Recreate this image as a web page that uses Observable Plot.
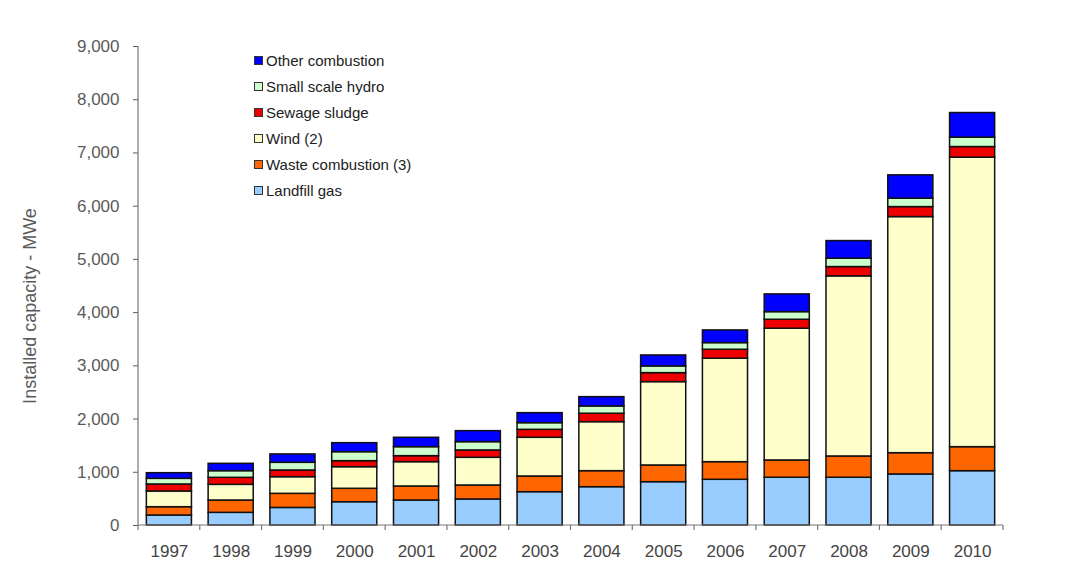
<!DOCTYPE html>
<html>
<head>
<meta charset="utf-8">
<script src="https://cdn.jsdelivr.net/npm/d3@7"></script>
<script src="https://cdn.jsdelivr.net/npm/@observablehq/plot@0.6"></script>
<style>
  body { margin: 0; background: #fff; font-family: "Liberation Sans", Arial, sans-serif; }
  #wrap { position: relative; width: 1077px; height: 572px; }
  #legend { position: absolute; left: 254px; top: 47px; font-size: 15px; color: #222; }
  #legend .row { display: flex; align-items: center; height: 26px; white-space: nowrap; }
  #legend .sw { width: 7px; height: 7px; border: 1px solid #333; margin-right: 3px; }
</style>
</head>
<body>
<div id="wrap"><div id="legend"></div></div>
<script>
// Installed renewable generating capacity (MWe), by source and year
const years = ["1997","1998","1999","2000","2001","2002","2003","2004","2005","2006","2007","2008","2009","2010"];
const landfillGas     = [188, 238, 330, 438, 470, 489, 626, 720, 814, 859, 897, 897, 959, 1021];
const wasteCombustion = [156, 232, 265, 252, 263, 263, 295, 301, 314, 331, 325, 400, 400, 451];
const wind            = [295, 294, 313, 406, 457, 520, 727, 921, 1566, 1943, 2475, 3384, 4436, 5440];
const sewageSludge    = [132, 132, 126, 113, 113, 138, 150, 158, 169, 169, 169, 175, 188, 199];
const smallHydro      = [106, 125, 144, 169, 169, 156, 125, 137, 126, 125, 143, 157, 158, 177];
const otherCombustion = [106, 138, 157, 169, 176, 207, 188, 175, 206, 238, 333, 331, 438, 462];

// Series from the bottom of each stack upwards
const seriesNames  = ["Landfill gas", "Waste combustion (3)", "Wind (2)", "Sewage sludge", "Small scale hydro", "Other combustion"];
const seriesValues = [landfillGas, wasteCombustion, wind, sewageSludge, smallHydro, otherCombustion];
const seriesColors = ["#99ccff", "#ff6600", "#ffffcc", "#ee0000", "#ccffcc", "#0000ff"];

const yTicks = [0, 1000, 2000, 3000, 4000, 5000, 6000, 7000, 8000, 9000];
const yLabel = "Installed capacity - MWe";

const rows = [];
seriesNames.forEach((name, s) => {
  years.forEach((year, i) => rows.push({year, series: name, value: seriesValues[s][i]}));
});

const chart = Plot.plot({
  width: 1077,
  height: 572,
  marginLeft: 138,
  marginRight: 74,
  marginTop: 46,
  marginBottom: 47,
  style: { fontFamily: "'Liberation Sans', Arial, sans-serif", background: "#fff", overflow: "visible" },
  x: { domain: years, paddingInner: 0.27, paddingOuter: 0.135, round: false },
  y: { domain: [0, 9000] },
  color: { domain: seriesNames, range: seriesColors },
  marks: [
    Plot.barY(rows, Plot.stackY({
      x: "year", y: "value", fill: "series", order: seriesNames,
      stroke: "#111", strokeWidth: 1.5
    })),
    Plot.axisY({ticks: yTicks, tickFormat: d3.format(","), tickSize: 5, tickPadding: 14,
                fontSize: 17, color: "#5a5a5a", label: null}),
    Plot.axisX({tickSize: 0, tickPadding: 19, fontSize: 17, color: "#444", label: null}),
    Plot.text([yLabel], {frameAnchor: "left", textAnchor: "middle", rotate: -90, dx: -108, dy: 20,
                         fontSize: 18, fill: "#5a5a5a"})
  ]
});

document.getElementById("wrap").prepend(chart);

// Axis lines and the tick marks between the year bands
const xs = chart.scale("x"), ys = chart.scale("y");
const step = xs.apply(years[1]) - xs.apply(years[0]);
const x0 = xs.apply(years[0]) - step * 0.135;
const yBase = ys.apply(0), yTop = ys.apply(9000);
const svg = d3.select(chart);
const g = svg.append("g").attr("stroke", "#777").attr("stroke-width", 1.2);
g.append("line").attr("x1", x0).attr("x2", x0).attr("y1", yTop).attr("y2", yBase);
g.append("line").attr("x1", x0).attr("x2", x0 + step * years.length).attr("y1", yBase).attr("y2", yBase);
for (let i = 0; i <= years.length; i++) {
  const xx = x0 + step * i;
  g.append("line").attr("x1", xx).attr("x2", xx).attr("y1", yBase).attr("y2", yBase + 5);
}

// Legend, listed from the top of the stack down
const legend = d3.select("#legend");
seriesNames.slice().reverse().forEach((name, k) => {
  const color = seriesColors[seriesNames.length - 1 - k];
  const row = legend.append("div").attr("class", "row");
  row.append("div").attr("class", "sw").style("background", color);
  row.append("span").text(name);
});
</script>
</body>
</html>
